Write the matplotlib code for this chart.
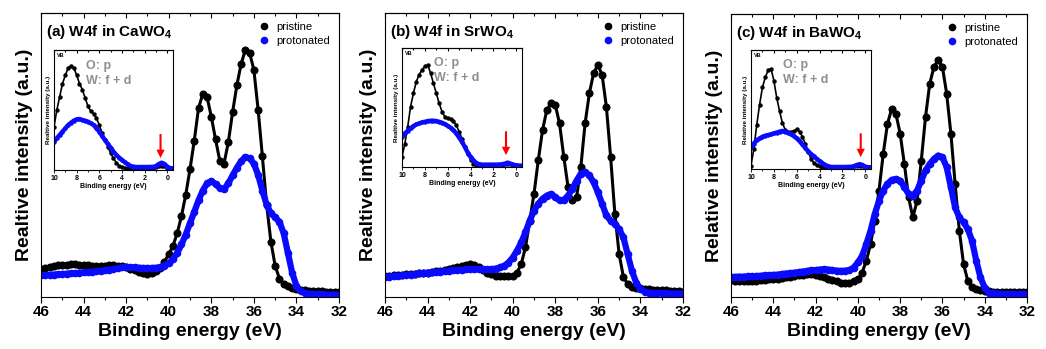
import numpy as np
import matplotlib
matplotlib.use("Agg")
import matplotlib.pyplot as plt
from matplotlib.lines import Line2D
from matplotlib.ticker import MultipleLocator

plt.rcParams['font.family'] = ['Liberation Sans', 'DejaVu Sans']
plt.rcParams['font.weight'] = 'bold'
plt.rcParams['axes.labelweight'] = 'bold'
plt.rcParams['mathtext.fontset'] = 'custom'
plt.rcParams['mathtext.rm'] = 'Liberation Sans:bold'
plt.rcParams['mathtext.bf'] = 'Liberation Sans:bold'

# W4f core level, binding energy grid 46 -> 32 eV (0.2 eV steps)
energy = np.round(np.linspace(46, 32, 71), 1)

ca_pristine = [10.0, 10.3, 10.6, 10.9, 11.1, 11.3, 11.4, 11.5, 11.5, 11.4,
               11.3, 11.2, 11.0, 10.9, 10.9, 11.0, 11.1, 11.1, 11.0, 10.8,
               10.5, 10.0, 9.4, 8.8, 8.3, 8.0, 8.3, 9.0, 10.2, 12.5,
               15.0, 18.0, 22.5, 28.5, 36.0, 45.0, 55.0, 66.5, 71.5, 70.5,
               63.5, 55.5, 48.0, 47.0, 54.5, 65.0, 74.5, 82.0, 87.0, 86.0,
               80.0, 66.0, 49.5, 32.5, 19.5, 11.0, 6.5, 4.6, 3.7, 3.2,
               2.8, 2.5, 2.3, 2.2, 2.1, 2.0, 2.0, 1.9, 1.9, 1.9, 1.8]
ca_protonated = [7.6, 7.7, 7.8, 7.9, 8.0, 8.1, 8.2, 8.3, 8.4, 8.5,
                 8.7, 8.8, 8.9, 9.0, 9.2, 9.4, 9.6, 9.8, 10.1, 10.4,
                 10.6, 10.5, 10.4, 10.3, 10.2, 10.2, 10.2, 10.3, 10.5, 11.0,
                 11.8, 13.3, 15.5, 18.5, 22.0, 26.0, 30.0, 34.0, 37.5, 40.0,
                 40.8, 39.8, 38.3, 38.0, 40.0, 42.8, 45.5, 47.8, 49.3, 48.8,
                 47.0, 43.0, 37.5, 32.5, 29.5, 28.0, 26.5, 22.5, 15.5, 8.5,
                 4.0, 2.0, 1.4, 1.1, 1.0, 0.9, 0.9, 0.8, 0.8, 0.8, 0.7]

sr_pristine = [7.4, 7.5, 7.6, 7.7, 7.9, 8.0, 8.1, 8.2, 8.4, 8.5,
               8.6, 8.8, 9.0, 9.3, 9.6, 9.8, 10.2, 10.6, 11.0, 11.4,
               11.6, 11.2, 10.4, 9.5, 8.6, 8.0, 7.4, 7.4, 7.4, 7.3,
               7.4, 8.6, 11.6, 17.5, 26.9, 36.3, 48.1, 58.7, 65.8, 68.2,
               67.6, 61.1, 49.3, 38.7, 34.0, 35.1, 45.8, 61.1, 71.7, 78.8,
               81.7, 78.2, 67.0, 49.3, 29.2, 15.1, 7.1, 4.5, 3.5, 3.3,
               3.1, 2.9, 2.7, 2.6, 2.5, 2.4, 2.3, 2.2, 2.1, 2.0, 1.9]
sr_protonated = [7.1, 7.2, 7.4, 7.5, 7.6, 7.8, 7.9, 8.1, 8.3, 8.4,
                 8.6, 8.7, 8.8, 8.9, 9.1, 9.2, 9.4, 9.5, 9.6, 9.7,
                 9.8, 9.8, 9.8, 9.8, 9.8, 9.8, 10.0, 10.4, 11.0, 12.1,
                 13.9, 16.3, 19.2, 22.8, 26.9, 30.4, 32.8, 34.6, 35.7, 36.3,
                 35.1, 34.0, 34.2, 35.7, 38.1, 41.0, 43.4, 44.0, 42.8, 40.4,
                 36.9, 32.8, 28.7, 26.9, 25.7, 23.9, 21.0, 15.1, 9.2, 5.1,
                 2.7, 1.9, 1.5, 1.4, 1.3, 1.3, 1.3, 1.2, 1.2, 1.2, 1.2]

ba_pristine = [5.9, 5.8, 5.8, 5.7, 5.7, 5.7, 5.8, 5.9, 6.0, 6.2,
               6.3, 6.5, 6.7, 6.9, 7.2, 7.4, 7.6, 7.8, 8.0, 8.0,
               7.8, 7.5, 7.1, 6.5, 5.9, 5.5, 5.1, 5.0, 5.1, 5.5,
               6.3, 8.6, 12.8, 18.7, 27.0, 37.6, 50.6, 61.2, 66.5, 64.8,
               57.7, 47.0, 35.2, 28.1, 34.0, 48.2, 63.6, 75.4, 81.3, 83.7,
               81.3, 71.9, 57.7, 40.0, 23.4, 11.6, 5.7, 3.5, 2.7, 2.4,
               2.1, 2.0, 1.9, 1.9, 1.8, 1.8, 1.8, 1.7, 1.7, 1.7, 1.7]
ba_protonated = [7.1, 7.1, 7.2, 7.2, 7.3, 7.3, 7.4, 7.5, 7.6, 7.7,
                 7.8, 7.9, 8.1, 8.3, 8.4, 8.6, 8.8, 9.0, 9.2, 9.4,
                 9.5, 9.7, 9.8, 9.7, 9.5, 9.3, 9.2, 9.3, 9.5, 10.4,
                 12.2, 14.5, 18.7, 23.4, 29.3, 34.0, 37.6, 40.0, 41.4, 41.7,
                 41.1, 38.8, 36.4, 35.8, 37.6, 41.1, 44.7, 47.0, 48.8, 50.0,
                 49.4, 45.9, 38.8, 31.7, 28.1, 26.4, 24.0, 19.9, 12.8, 6.9,
                 3.3, 1.5, 1.3, 1.2, 1.1, 1.0, 0.9, 0.9, 0.9, 0.9, 0.9]

# valence band insets, binding energy grid 10 -> -0.5 eV (0.25 eV steps)
vb_energy = np.round(np.linspace(10, -0.5, 43), 2)

vb_ca_pristine = [36, 50, 61, 72, 79, 85, 87, 85, 79, 72,
                  67, 60, 53, 49, 47, 43, 37.5, 30.5, 25, 19.4,
                  13.9, 9.7, 6.1, 3.6, 2.2, 1.7, 1.4, 1.3, 1.2, 1.2,
                  1.2, 1.2, 1.3, 1.3, 1.4, 1.6, 2.2, 3.2, 3.6, 3.0,
                  1.8, 1.2, 1.0]
vb_ca_protonated = [23.6, 26.4, 29.2, 32, 34.7, 37.5, 39.4, 41.1, 42.2, 42.5,
                    41.7, 41.1, 40.3, 38.9, 37.5, 34.7, 32, 28.3, 25, 21.7,
                    18.6, 15.3, 12.5, 10.3, 8.3, 6.4, 4.7, 3.3, 2.8, 2.5,
                    2.5, 2.5, 2.5, 2.5, 2.6, 2.6, 3.3, 5.0, 6.1, 5.0,
                    2.8, 1.4, 1.4]
vb_sr_pristine = [8.5, 19.7, 33.8, 50.7, 62, 71.8, 77.5, 81.7, 84.5, 85.9,
                  78.9, 70.4, 62, 53.5, 46.5, 42.3, 40.8, 40, 38.9, 35.2,
                  29.6, 23.9, 16.9, 11.3, 6.2, 2.8, 1.7, 1.5, 1.4, 1.4,
                  1.4, 1.4, 1.5, 1.5, 1.6, 1.8, 2.2, 2.8, 2.3, 1.8,
                  1.4, 1.2, 1.1]
vb_sr_protonated = [25.4, 28.2, 30.4, 32.4, 34.4, 35.8, 36.6, 37.5, 38, 38.6,
                    38.9, 38.9, 38.6, 38, 37.2, 36.1, 34.6, 33, 31, 28.2,
                    24.8, 21.1, 16.9, 12.1, 8.5, 5.6, 3.4, 2.3, 2.0, 2.0,
                    2.0, 2.0, 2.0, 2.0, 2.1, 2.3, 2.8, 3.7, 2.8, 2.0,
                    1.4, 1.2, 1.1]
vb_ba_pristine = [2.9, 17, 37, 54, 68.6, 77, 83, 84.3, 74.3, 60,
                  48.6, 38.6, 32.9, 31.4, 31.4, 32, 33.4, 31.4, 27.1, 21.4,
                  14.3, 8.6, 5.1, 3.4, 2.3, 1.9, 1.7, 1.6, 1.6, 1.6,
                  1.6, 1.6, 1.7, 1.7, 1.8, 2.0, 2.4, 2.9, 2.9, 2.3,
                  1.7, 1.5, 1.4]
vb_ba_protonated = [18.6, 21.4, 24.3, 25.7, 27.1, 28, 28.6, 29.1, 30, 30.6,
                    31.4, 32, 31.4, 30.6, 29.1, 27.7, 25.7, 23.4, 20.6, 17.7,
                    14.9, 12.6, 10.6, 8.6, 6.6, 4.9, 3.4, 2.3, 1.7, 1.7,
                    1.7, 1.7, 1.7, 1.7, 1.8, 1.9, 2.3, 3.4, 4.0, 3.4,
                    2.0, 1.5, 1.4]

titles = [r"(a) W4f in CaWO$_\mathbf{4}$", r"(b) W4f in SrWO$_\mathbf{4}$",
          r"(c) W4f in BaWO$_\mathbf{4}$"]
ylabels = ["Realtive intensity (a.u.)", "Realtive intensity (a.u.)",
           "Relative intensity (a.u.)"]
inset_ylabels = ["Realtive intensity (a.u.)", "Realtive intensity (a.u.)",
                 "Relative intensity (a.u.)"]
arrow_energy = [0.6, 0.9, 0.4]

main_data = [(ca_pristine, ca_protonated), (sr_pristine, sr_protonated),
             (ba_pristine, ba_protonated)]
vb_data = [(vb_ca_pristine, vb_ca_protonated), (vb_sr_pristine, vb_sr_protonated),
           (vb_ba_pristine, vb_ba_protonated)]

BLUE = '#0a0aff'
W, H = 1046, 349
main_px = [(41, 13, 298, 284), (385, 13, 298, 284), (731, 14, 296, 283)]
inset_px = [(54, 50, 119, 120), (402, 48, 120, 119), (751, 50, 120, 119)]


def px_rect(left, top, width, height):
    return [left / W, (H - top - height) / H, width / W, height / H]


def top_ticks(ax, major, minor, length):
    sec = ax.secondary_xaxis('top')
    sec.xaxis.set_major_locator(MultipleLocator(major))
    sec.xaxis.set_minor_locator(MultipleLocator(minor))
    sec.tick_params(which='both', direction='in', labeltop=False, width=0.8)
    sec.tick_params(which='major', length=length)
    sec.tick_params(which='minor', length=length * 0.6)
    sec.spines['top'].set_linewidth(0.8)


fig = plt.figure(figsize=(W / 100, H / 100), dpi=100)

for i in range(3):
    ax = fig.add_axes(px_rect(*main_px[i]))
    pristine, protonated = main_data[i]
    ax.plot(energy, pristine, 'o-', color='black', ms=5.8, lw=2.2, mew=0)
    ax.plot(energy, protonated, 'o-', color=BLUE, ms=5.5, lw=4.5, mew=0)
    ax.set_xlim(46, 32)
    ax.set_ylim(0, 100)
    ax.xaxis.set_major_locator(MultipleLocator(2))
    ax.xaxis.set_minor_locator(MultipleLocator(1))
    ax.tick_params(axis='x', which='both', direction='out', top=False,
                   labelsize=11, pad=2, width=0.8)
    ax.tick_params(axis='x', which='major', length=4)
    ax.tick_params(axis='x', which='minor', length=2.5)
    ax.tick_params(axis='y', left=False, labelleft=False)
    for lab in ax.get_xticklabels():
        lab.set_fontweight('bold')
    for s in ax.spines.values():
        s.set_linewidth(0.8)
    top_ticks(ax, 2, 1, 3.5)
    ax.set_xlabel("Binding energy (eV)", fontsize=14, fontweight='bold', labelpad=3)
    ax.set_ylabel(ylabels[i], fontsize=14, fontweight='bold', labelpad=6)
    ax.text(0.017, 0.933, titles[i], transform=ax.transAxes, fontsize=11,
            va='center', ha='left')
    handles = [Line2D([], [], ls='', marker='o', color='black', ms=5.5, mew=0),
               Line2D([], [], ls='', marker='o', color=BLUE, ms=5.5, mew=0)]
    ax.legend(handles, ["pristine", "protonated"], loc='upper right',
              bbox_to_anchor=(1.0, 1.0), frameon=False,
              prop={'size': 8, 'weight': 'normal'}, handletextpad=0.5,
              handlelength=1.2, labelspacing=0.35, borderaxespad=0.4)

    ins = fig.add_axes(px_rect(*inset_px[i]))
    vb_p, vb_h = vb_data[i]
    ins.plot(vb_energy, vb_p, 'o-', color='black', ms=3.2, lw=1.2, mew=0)
    ins.plot(vb_energy, vb_h, 'o-', color=BLUE, ms=3.2, lw=3.2, mew=0)
    ins.set_xlim(10, -0.5)
    ins.set_ylim(0, 100)
    ins.xaxis.set_major_locator(MultipleLocator(2))
    ins.xaxis.set_minor_locator(MultipleLocator(1))
    ins.tick_params(axis='x', which='both', direction='out', top=False,
                    labelsize=5, pad=1, width=0.6)
    ins.tick_params(axis='x', which='major', length=2.5)
    ins.tick_params(axis='x', which='minor', length=1.5)
    ins.tick_params(axis='y', left=False, labelleft=False)
    for lab in ins.get_xticklabels():
        lab.set_fontweight('bold')
    for s in ins.spines.values():
        s.set_linewidth(0.8)
    top_ticks(ins, 2, 1, 2)
    ins.set_xlabel("Binding energy (eV)", fontsize=5, fontweight='bold', labelpad=1)
    ins.set_ylabel(inset_ylabels[i], fontsize=4.5, fontweight='bold', labelpad=2)
    ins.text(0.025, 0.955, "VB", transform=ins.transAxes, fontsize=4,
             va='center', ha='left')
    ins.text(0.27, 0.87, "O: p", transform=ins.transAxes, fontsize=9,
             color='#8f8f8f', va='center', ha='left')
    ins.text(0.27, 0.745, "W: f + d", transform=ins.transAxes, fontsize=9,
             color='#8f8f8f', va='center', ha='left')
    ins.annotate('', xy=(arrow_energy[i], 0.1), xytext=(arrow_energy[i], 0.3),
                 xycoords=('data', 'axes fraction'),
                 textcoords=('data', 'axes fraction'),
                 arrowprops=dict(color='red', width=1.5, headwidth=6,
                                 headlength=6, lw=0))

fig.savefig("out.png", dpi=100)
